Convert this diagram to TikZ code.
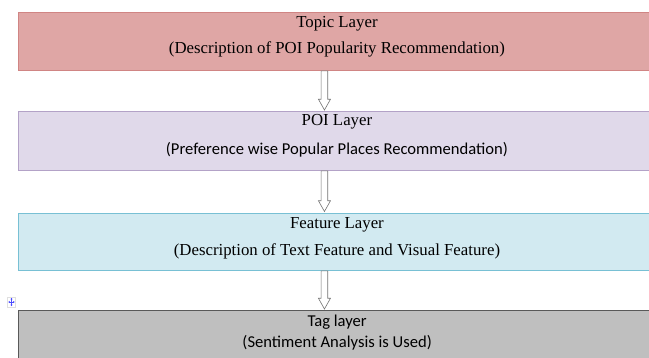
\documentclass[tikz,border=0pt]{standalone}
\usepackage{fontspec}
\setmainfont{Liberation Serif}
\newfontfamily\calibri{Carlito}
\usetikzlibrary{arrows.meta, positioning, calc}

\definecolor{topicfill}{HTML}{DFA6A5}
\definecolor{topicline}{HTML}{D08584}
\definecolor{poifill}{HTML}{E0D9EA}
\definecolor{poiline}{HTML}{B3A2C7}
\definecolor{featfill}{HTML}{D2EAF1}
\definecolor{featline}{HTML}{78C0D4}
\definecolor{tagfill}{HTML}{BFBFBF}
\definecolor{tagline}{HTML}{595959}

\begin{document}
\begin{tikzpicture}[x=1pt, y=-1pt,
    layer/.style={rectangle, draw, line width=0.9pt, anchor=north west, inner sep=0pt, minimum width=638pt},
    serif/.style={anchor=base, inner sep=0pt, font=\fontsize{16.8}{19}\selectfont},
    sans/.style={anchor=base, inner sep=0pt, font=\calibri\fontsize{16.6}{19}\selectfont},
    blockarrow/.style={draw=gray!90!black, line width=0.6pt, fill=white,
      to path={let \p1=(\tikztostart), \p2=(\tikztotarget) in
        (\x1-3.3pt,\y1) -- (\x1-3.3pt,\y2+10.7pt) -- (\x1-6pt,\y2+10.7pt) -- (\x1,\y2)
        -- (\x1+6pt,\y2+10.7pt) -- (\x1+3.3pt,\y2+10.7pt) -- (\x1+3.3pt,\y1) -- cycle}},
    handle/.style={rectangle, draw=gray!25, fill=white, line width=0.4pt, minimum width=8pt, minimum height=10pt, inner sep=0pt}]

    \useasboundingbox (0,0) rectangle (649,358);
    \begin{scope}
    \clip (0,0) rectangle (649,358);

    % layers
    \node[layer, fill=topicfill, draw=topicline, minimum height=58pt] (topic) at (17.5,12) {};
    \node[layer, fill=poifill, draw=poiline, minimum height=58.5pt] (poi) at (17.5,111.5) {};
    \node[layer, fill=featfill, draw=featline, minimum height=57pt] (feat) at (17.5,213) {};
    \node[layer, fill=tagfill, draw=tagline, line width=1.3pt, minimum height=60pt] (tag) at (17.5,310) {};

    \node[serif] (topic_t) at ([yshift=-15.2pt]topic.north) {Topic Layer};
    \node[serif] (topic_d) at ([yshift=-41.3pt]topic.north) {(Description of POI Popularity Recommendation)};
    \node[serif] (poi_t) at ([yshift=-14pt]poi.north) {POI Layer};
    \node[sans] (poi_d) at ([yshift=-42.8pt]poi.north) {(Preference wise Popular Places Recommendation)};
    \node[serif] (feat_t) at ([yshift=-15.4pt]feat.north) {Feature Layer};
    \node[serif] (feat_d) at ([yshift=-42.3pt]feat.north) {(Description of Text Feature and Visual Feature)};
    \node[sans] (tag_t) at ([yshift=-17pt]tag.north) {Tag layer};
    \node[sans] (tag_d) at ([yshift=-38pt]tag.north) {(Sentiment Analysis is Used)};

    % arrows between layers
    \draw[blockarrow] ([xshift=-12.5pt]topic.south) to ([xshift=-12.5pt,yshift=1.5pt]poi.north);
    \draw[blockarrow] ([xshift=-12.5pt]poi.south) to ([xshift=-12.5pt,yshift=1.5pt]feat.north);
    \draw[blockarrow] ([xshift=-12.5pt]feat.south) to ([xshift=-12.5pt,yshift=1pt]tag.north);

    % move handle
    \node[handle] (grip) at (11.5,302) {};
    \draw[blue!70, line width=0.5pt, {Stealth[length=1.6pt,width=2pt]}-{Stealth[length=1.6pt,width=2pt]}] ([yshift=-1pt]grip.north) -- ([yshift=1pt]grip.south);
    \draw[blue!70, line width=0.5pt, {Stealth[length=1.6pt,width=2pt]}-{Stealth[length=1.6pt,width=2pt]}] ([xshift=1pt]grip.west) -- ([xshift=-1pt]grip.east);
    \end{scope}
\end{tikzpicture}
\end{document}
